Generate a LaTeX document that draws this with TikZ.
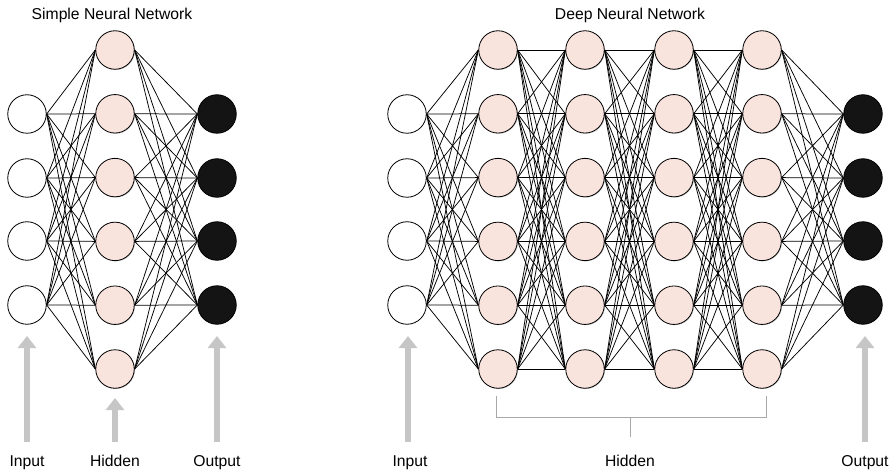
\documentclass[tikz,border=0pt]{standalone}
\usepackage{fontspec}
\setmainfont{Liberation Sans}
\usetikzlibrary{arrows.meta,shadows}
\definecolor{hidfill}{HTML}{F9E3DD}
\definecolor{outfill}{HTML}{141414}
\definecolor{arrowgray}{HTML}{C6C6C6}
\definecolor{bracketgray}{HTML}{A8A8A8}
\tikzset{
  neuron/.style={circle, draw=black, line width=0.8pt, minimum size=38.5pt, inner sep=0pt},
  innode/.style={neuron, fill=white},
  hidnode/.style={neuron, fill=hidfill, drop shadow={shadow xshift=0.7pt, shadow yshift=-0.7pt, fill=black, opacity=0.25}},
  outnode/.style={neuron, fill=outfill},
  link/.style={line width=0.75pt, black},
  uparrow/.style={draw=arrowgray, line width=6pt, -{Triangle[width=18pt,length=12pt]}},
  lbl/.style={inner sep=0pt, anchor=base, font=\fontsize{15.7}{18}\selectfont},
  bracketline/.style={draw=bracketgray, line width=0.8pt}
}
\begin{document}
\begin{tikzpicture}[x=1pt,y=-1pt]
\useasboundingbox (0,0) rectangle (894,473);

% ---------- simple network ----------
\foreach \i/\y in {1/114,2/178,3/241,4/305} {
  \node[innode] (si\i) at (27,\y) {};
  \node[outnode] (so\i) at (217,\y) {};
}
\foreach \i in {1,...,6}
  \node[hidnode] (sh\i) at (115,{50+63.8*(\i-1)}) {};
\foreach \a in {1,...,4}
  \foreach \b in {1,...,6} {
    \draw[link] (si\a.east) -- (sh\b.west);
    \draw[link] (sh\b.east) -- (so\a.west);
  }

\node[lbl] (stitle) at (112,20) {Simple Neural Network};

\coordinate (sain0) at (27,442);  \coordinate (sain1) at (27,336);
\coordinate (sahid0) at (115,442); \coordinate (sahid1) at (115,398);
\coordinate (saout0) at (217,442); \coordinate (saout1) at (217,336);
\draw[uparrow] (sain0) -- (sain1);
\draw[uparrow] (sahid0) -- (sahid1);
\draw[uparrow] (saout0) -- (saout1);
\node[lbl] (slin) at (27,466) {Input};
\node[lbl] (slhid) at (115,466) {Hidden};
\node[lbl] (slout) at (217,466) {Output};

% ---------- deep network ----------
\foreach \i/\y in {1/114,2/178,3/241,4/305} {
  \node[innode] (di\i) at (407,\y) {};
  \node[outnode] (do\i) at (863,\y) {};
}
\foreach \l/\x in {1/498,2/585,3/674,4/762}
  \foreach \i in {1,...,6}
    \node[hidnode] (dh\l-\i) at (\x,{50+63.8*(\i-1)}) {};
\foreach \a in {1,...,4}
  \foreach \b in {1,...,6} {
    \draw[link] (di\a.east) -- (dh1-\b.west);
    \draw[link] (dh4-\b.east) -- (do\a.west);
  }
\foreach \l/\m in {1/2,2/3,3/4}
  \foreach \a in {1,...,6}
    \foreach \b in {1,...,6}
      \draw[link] (dh\l-\a.east) -- (dh\m-\b.west);

\node[lbl] (dtitle) at (630,20) {Deep Neural Network};

% bracket under the hidden layers
\coordinate (bl0) at (496,396); \coordinate (bl1) at (496,417);
\coordinate (br0) at (766,396); \coordinate (br1) at (766,417);
\coordinate (bm0) at (630,417); \coordinate (bm1) at (630,437);
\draw[bracketline] (bl0) -- (bl1) -- (br1) -- (br0);
\draw[bracketline] (bm0) -- (bm1);

\coordinate (dain0) at (408,442);  \coordinate (dain1) at (408,336);
\coordinate (daout0) at (865,442); \coordinate (daout1) at (865,336);
\draw[uparrow] (dain0) -- (dain1);
\draw[uparrow] (daout0) -- (daout1);
\node[lbl] (dlin) at (410,466) {Input};
\node[lbl] (dlhid) at (630,466) {Hidden};
\node[lbl] (dlout) at (865,466) {Output};
\end{tikzpicture}
\end{document}
